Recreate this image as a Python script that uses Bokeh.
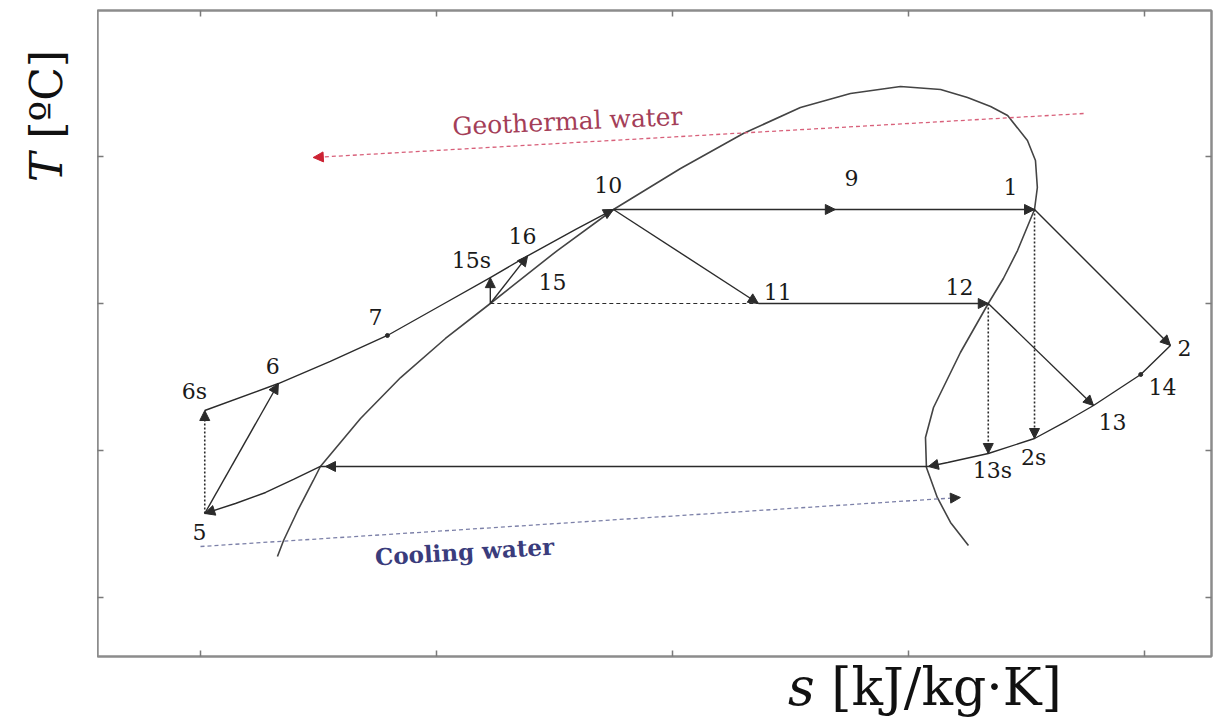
import math
from bokeh.plotting import figure
from bokeh.layouts import column, row
from bokeh.models import (ColumnDataSource, LabelSet, Label, Arrow, NormalHead,
                          LinearAxis, FixedTicker, Range1d, Div, CustomJSTickFormatter)
from bokeh.core.properties import value
from bokeh.embed import file_html
from bokeh.resources import INLINE

# ---- T-s diagram of a dual-pressure ORC driven by geothermal water ----
# entropy s [kJ/kg·K], temperature T [°C]

# saturation dome of the working fluid (liquid branch, crest, vapour branch)
dome_s = [1.163, 1.176, 1.206, 1.239, 1.254, 1.339, 1.424, 1.519, 1.614, 1.756,
          1.875, 2.017, 2.150, 2.271, 2.377, 2.483, 2.568, 2.625, 2.674, 2.710,
          2.752, 2.769, 2.773, 2.767, 2.731, 2.701, 2.669, 2.610, 2.553, 2.536,
          2.538, 2.561, 2.589, 2.627]
dome_T = [31.97, 34.69, 39.80, 44.90, 47.28, 55.44, 62.41, 69.05, 75.00, 84.01,
          90.99, 97.96, 103.91, 108.33, 110.71, 111.90, 111.39, 110.03, 108.50, 106.97,
          102.72, 99.32, 94.73, 90.99, 84.01, 79.25, 75.00, 66.67, 57.31, 52.21,
          47.11, 42.01, 37.76, 33.84]

# cycle state points
state_name = ["1", "2", "2s", "5", "6", "6s", "7", "10", "11", "12",
              "13", "13s", "14", "15", "15s", "16", "9", "4", "4l"]
state_s = [2.767, 3.055, 2.767, 1.009, 1.165, 1.009, 1.396, 1.875, 2.182, 2.669,
           2.892, 2.669, 2.992, 1.614, 1.614, 1.693, 2.345, 2.542, 1.254]
state_T = [90.99, 67.86, 52.04, 39.29, 61.39, 56.80, 69.56, 90.99, 75.00, 75.00,
           57.65, 49.49, 62.93, 75.00, 79.40, 83.10, 90.99, 47.28, 47.28]

# compressed-liquid heating line 6s - 6 - 7 - 15s - 16 - 10
liq_s = [1.009, 1.165, 1.275, 1.396, 1.509, 1.614, 1.693, 1.795, 1.875]
liq_T = [56.80, 61.39, 65.14, 69.56, 74.66, 79.40, 83.10, 87.59, 90.99]

# desuperheating at condenser pressure 2 - 14 - 13 - 2s - 13s - saturated vapour
cond_s = [3.055, 2.992, 2.892, 2.837, 2.767, 2.669, 2.583, 2.542]
cond_T = [67.86, 62.93, 57.65, 55.10, 52.04, 49.49, 47.96, 47.28]

# subcooled liquid from saturation to pump inlet 5
sub_s = [1.254, 1.197, 1.138, 1.074, 1.009]
sub_T = [47.28, 45.07, 42.86, 40.99, 39.29]

# heat source / heat sink streams
geo_s = [2.871, 1.239]
geo_T = [107.31, 99.83]
cool_s = [1.000, 2.610]
cool_T = [33.67, 42.01]

# state labels
label_text = ["10", "9", "1", "16", "15s", "15", "11", "12", "7", "6", "6s", "5",
              "2", "14", "13", "13s", "2s"]
label_s = [1.864, 2.379, 2.716, 1.682, 1.574, 1.746, 2.223, 2.608, 1.371, 1.153,
           0.987, 0.998, 3.085, 3.038, 2.932, 2.678, 2.765]
label_T = [95.07, 96.26, 94.73, 86.56, 82.31, 78.74, 77.04, 77.89, 72.62, 64.29,
           60.03, 36.22, 67.35, 60.88, 54.93, 46.60, 48.81]

s_ticks = [1.0, 1.5, 2.0, 2.5, 3.0]
T_ticks = [25, 50, 75, 100]

P = {n: (x, y) for n, x, y in zip(state_name, state_s, state_T)}

INK = "#2b2b2b"
FONT = "DejaVu Serif"

p = figure(width=1117, height=665,
           x_range=Range1d(0.78178, 3.14195), y_range=Range1d(14.966, 124.83),
           output_backend="svg", toolbar_location=None,
           x_axis_location=None, y_axis_location=None,
           min_border_left=0, min_border_right=3, min_border_top=10, min_border_bottom=9,
           background_fill_color="white", border_fill_color="white")
for g in list(p.xgrid) + list(p.ygrid):
    g.visible = False
p.outline_line_color = "#8c8c8c"
p.outline_line_width = 2

blank = CustomJSTickFormatter(code="return ''")
for side, ticks in (("below", s_ticks), ("above", s_ticks), ("left", T_ticks), ("right", T_ticks)):
    ax = LinearAxis(ticker=FixedTicker(ticks=ticks), formatter=blank,
                    major_tick_in=6, major_tick_out=0, minor_tick_in=0, minor_tick_out=0,
                    major_tick_line_color="#7a7a7a", major_tick_line_width=1.5,
                    axis_line_color="#8c8c8c", axis_line_width=2,
                    major_label_text_font_size="1px", major_label_standoff=0)
    p.add_layout(ax, side)

# saturation dome
p.line(dome_s, dome_T, line_color="#444444", line_width=1.6)

# heat source and heat sink
p.line(geo_s, geo_T, line_color="#d8607a", line_width=1.3, line_dash="4 3")
p.line(cool_s, cool_T, line_color="#7c80a8", line_width=1.3, line_dash="4 3")

# process lines of the cycle
def seg(a, b, dash="solid", width=1.4):
    (x0, y0), (x1, y1) = P[a], P[b]
    p.line([x0, x1], [y0, y1], line_color=INK, line_width=width, line_dash=dash)

p.line(liq_s, liq_T, line_color=INK, line_width=1.4)
p.line(cond_s, cond_T, line_color=INK, line_width=1.4)
p.line(sub_s, sub_T, line_color=INK, line_width=1.4)
seg("5", "6")
seg("10", "1")
seg("10", "11")
seg("11", "12")
seg("12", "13")
seg("1", "2")
seg("4", "4l")
seg("15", "16")
seg("15", "15s")
seg("15", "11", dash="4 3", width=1.2)
seg("5", "6s", dash="2 2", width=1.6)
seg("12", "13s", dash="2 2", width=1.6)
seg("1", "2s", dash="2 2", width=1.6)

# arrow heads
def head(x0, y0, x1, y1, color=INK, size=10):
    p.add_layout(Arrow(end=NormalHead(size=size, fill_color=color, line_color=color, line_width=1),
                       x_start=x0, y_start=y0, x_end=x1, y_end=y1, line_color=None))

def head_to(a, b, **kw):
    head(*P[a], *P[b], **kw)

head_to("5", "6")
head_to("5", "6s")
head_to("10", "1")
head(P["10"][0], P["10"][1], *P["9"])
head_to("10", "11")
head_to("11", "12")
head_to("12", "13")
head_to("12", "13s")
head_to("1", "2")
head_to("1", "2s")
head_to("15", "16")
head_to("15", "15s")
head(liq_s[-2], liq_T[-2], liq_s[-1], liq_T[-1])
head(cond_s[-2], cond_T[-2], cond_s[-1], cond_T[-1])
head(P["4"][0], P["4"][1], 1.2648, P["4l"][1])
head(sub_s[-2], sub_T[-2], sub_s[-1], sub_T[-1])
head(1.30, 100.11, geo_s[-1], geo_T[-1], color="#cc2233")
head(2.55, 41.70, cool_s[-1], cool_T[-1])

# marked intermediate states
p.scatter([P["7"][0], P["14"][0]], [P["7"][1], P["14"][1]], size=4, color=INK)

# state labels
p.add_layout(LabelSet(x="s", y="T", text="t",
                      source=ColumnDataSource(dict(s=label_s, T=label_T, t=label_text)),
                      text_font=value(FONT), text_font_size="22px", text_color="#1a1a1a",
                      text_align="center", text_baseline="middle"))

# stream names
p.add_layout(Label(x=1.7775, y=105.95, text="Geothermal water", angle=0.045,
                   text_font=FONT, text_font_size="25px", text_color="#a43e58",
                   text_align="center", text_baseline="middle"))
p.add_layout(Label(x=1.5593, y=32.82, text="Cooling water", angle=0.06,
                   text_font=FONT, text_font_size="23px", text_color="#3a3c7c",
                   text_font_style="bold", text_align="center", text_baseline="middle"))

# axis titles (outside the frame)
title_css = "font-family:'DejaVu Serif';color:#111111;white-space:nowrap;"
y_title = Div(width=97, height=665, margin=(0, 0, 0, 0),
              text=("<div style=\"display:inline-block;margin-left:25px;margin-top:182px;"
                    "transform:rotate(-90deg);transform-origin:0 0;font-size:44px;"
                    "line-height:44px;" + title_css + "\"><i>T</i> [ºC]</div>"))
x_title = Div(width=1214, height=55, margin=(0, 0, 0, 0),
              text=("<div style=\"padding-left:788px;font-size:52px;line-height:44px;"
                    + title_css + "\"><i>s</i> [kJ/kg·K]</div>"))

layout = column(row(y_title, p, spacing=0), x_title, spacing=0)

open("out.html", "w").write(file_html(layout, INLINE))
